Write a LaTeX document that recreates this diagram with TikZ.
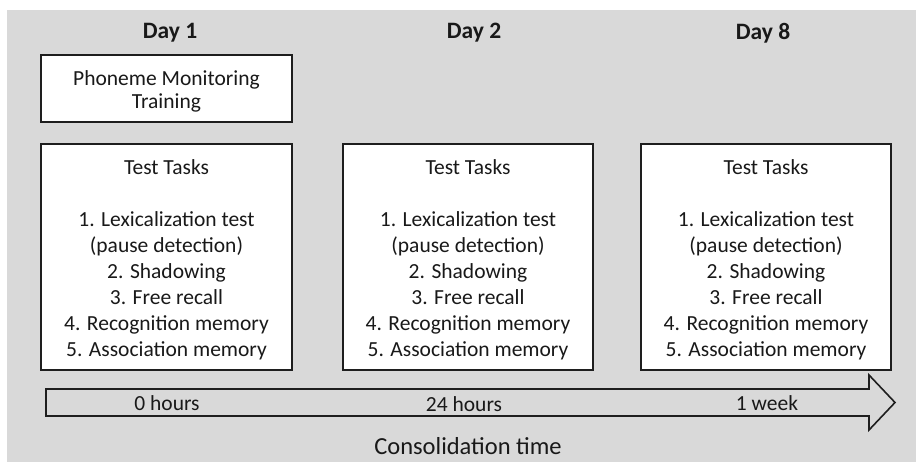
\documentclass[tikz,border=0pt]{standalone}
\usepackage{fontspec}
\setmainfont{Carlito}
\definecolor{panelbg}{RGB}{217,217,217}
\definecolor{edge}{RGB}{30,30,30}
\begin{document}
\begin{tikzpicture}[x=1pt,y=-1pt,
  box/.style={draw=edge, line width=1.6pt, fill=white, inner sep=0pt},
  boxtext/.style={align=center, inner sep=0pt, text=black!90,
    font=\fontsize{21.5}{26}\selectfont},
  daylabel/.style={font=\fontsize{23.5}{28}\selectfont\bfseries, text=black!90},
  lbl/.style={font=\fontsize{21.5}{26}\selectfont, text=black!90}]
\useasboundingbox (0,0) rectangle (916,462);
\fill[white] (0,0) rectangle (916,462);
\fill[panelbg] (7,10) rectangle (916,462);

% day headings
\node[daylabel] (d1) at (170,33) {Day 1};
\node[daylabel] (d2) at (474,33) {Day 2};
\node[daylabel] (d8) at (763,33) {Day 8};

% training box
\node[box, minimum width=251pt, minimum height=67pt] (train) at (166.5,88.5) {};
\node[boxtext, font=\fontsize{21.5}{23}\selectfont] (traintxt) at (166.5,91)
  {Phoneme Monitoring\\Training};

% test task boxes
\newcommand{\tasklist}{Test Tasks\\[26pt]1. Lexicalization test\\(pause detection)\\2. Shadowing\\3. Free recall\\4. Recognition memory\\5. Association memory}
\node[box, minimum width=251pt, minimum height=226pt] (t1) at (166.5,257) {};
\node[box, minimum width=250pt, minimum height=226pt] (t2) at (468,257) {};
\node[box, minimum width=250pt, minimum height=226pt] (t3) at (766,257) {};
\node[boxtext] (t1txt) at (166.5,259.5) {\tasklist};
\node[boxtext] (t2txt) at (468,259.5) {\tasklist};
\node[boxtext] (t3txt) at (766,259.5) {\tasklist};

% timeline arrow
\draw[edge, line width=1.6pt, line join=miter]
  (46,389) -- (869,389) -- (869,375) -- (895,402.5) -- (869,430)
  -- (869,416) -- (46,416) -- cycle;
\node[lbl] (h0) at (167,403) {0 hours};
\node[lbl] (h24) at (464,404) {24 hours};
\node[lbl] (wk) at (767,403) {1 week};
\node[lbl, font=\fontsize{24.5}{28}\selectfont] (cons) at (468,446) {Consolidation time};
\end{tikzpicture}
\end{document}
